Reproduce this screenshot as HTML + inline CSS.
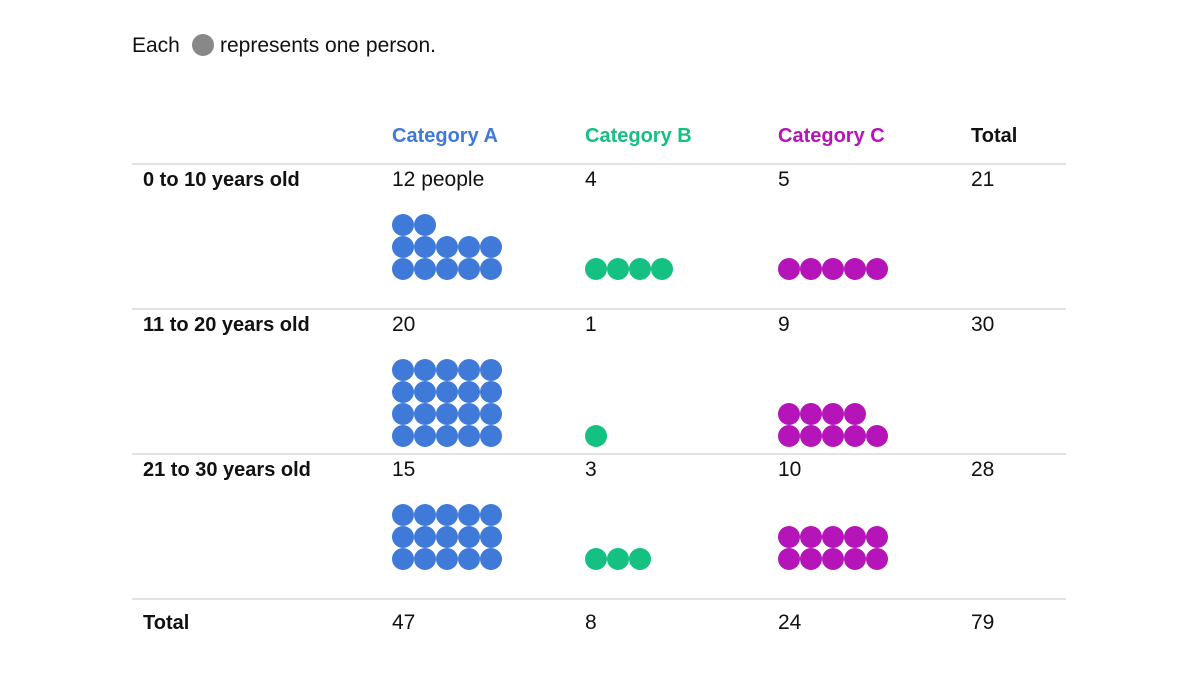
<!DOCTYPE html>
<html><head><meta charset="utf-8"><style>
body{margin:0;background:#fff;font-family:"Liberation Sans",sans-serif;}
svg text{font-family:"Liberation Sans",sans-serif;}
</style></head><body>
<svg id="chart" width="1201" height="690" xmlns="http://www.w3.org/2000/svg">
<text x="132" y="52" font-size="21" fill="#111">Each</text>
<circle cx="203" cy="45" r="11" fill="#888"/>
<text x="220" y="52" font-size="21" fill="#111">represents one person.</text>
<g id="g"></g>
</svg>
<script>
const categories=["Category A","Category B","Category C"];
const catColors=["#3f7ad9","#14c082","#b514b8"];
const ageGroups=["0 to 10 years old","11 to 20 years old","21 to 30 years old"];
const countsA=[12,20,15];
const countsB=[4,1,3];
const countsC=[5,9,10];
const g=document.getElementById('g');
const NS="http://www.w3.org/2000/svg";
function mk(tag,attrs,txt){const e=document.createElementNS(NS,tag);for(const k in attrs)e.setAttribute(k,attrs[k]);if(txt!==undefined)e.textContent=txt;g.appendChild(e);return e;}
const colX=[392,585,778,971];
const lineY=[164,309,454,599];
const series=[countsA,countsB,countsC];
let h;
categories.forEach((c,i)=>{h=mk('text',{x:colX[i],y:142,'font-size':20,'font-weight':'bold',fill:catColors[i]},c);

});
h=mk('text',{x:colX[3],y:142,'font-size':20,'font-weight':'bold',fill:'#111'},'Total');


lineY.forEach((y,i)=>{const l=mk('line',{x1:132,x2:1066,y1:y,y2:y,stroke:'#c4c4c4','stroke-width':1});

});
const pitch=22,perRow=5;
ageGroups.forEach((a,r)=>{
  const y0=lineY[r];
  let t=mk('text',{x:143,y:y0+22,'font-size':20,'font-weight':'bold',fill:'#111'},a);
  
  
  const rowsMax=Math.max(...series.map(s=>Math.ceil(s[r]/perRow)));
  let tot=0;
  series.forEach((s,ci)=>{
    const n=s[r];tot+=n;
    const v=mk('text',{x:colX[ci],y:y0+22,'font-size':21,fill:'#111'},(r===0&&ci===0)?n+' people':String(n));
    
    
    const bottomY=y0+61+(rowsMax-1)*pitch;
    for(let k=0;k<n;k++){
      const row=Math.floor(k/perRow),col=k%perRow;
      const d=mk('circle',{cx:colX[ci]+11+col*pitch,cy:bottomY-row*pitch,r:11,fill:catColors[ci]});
      
      
    }
  });
  const tt=mk('text',{x:colX[3],y:y0+22,'font-size':21,fill:'#111'},String(tot));
  
  
});
let ft=mk('text',{x:143,y:629,'font-size':20,'font-weight':'bold',fill:'#111'},'Total');


let grand=0;
series.forEach((s,ci)=>{const sum=s.reduce((a,b)=>a+b,0);grand+=sum;
 const e=mk('text',{x:colX[ci],y:629,'font-size':21,fill:'#111'},String(sum));
 
 });
ft=mk('text',{x:colX[3],y:629,'font-size':21,fill:'#111'},String(grand));


</script>
</body></html>
